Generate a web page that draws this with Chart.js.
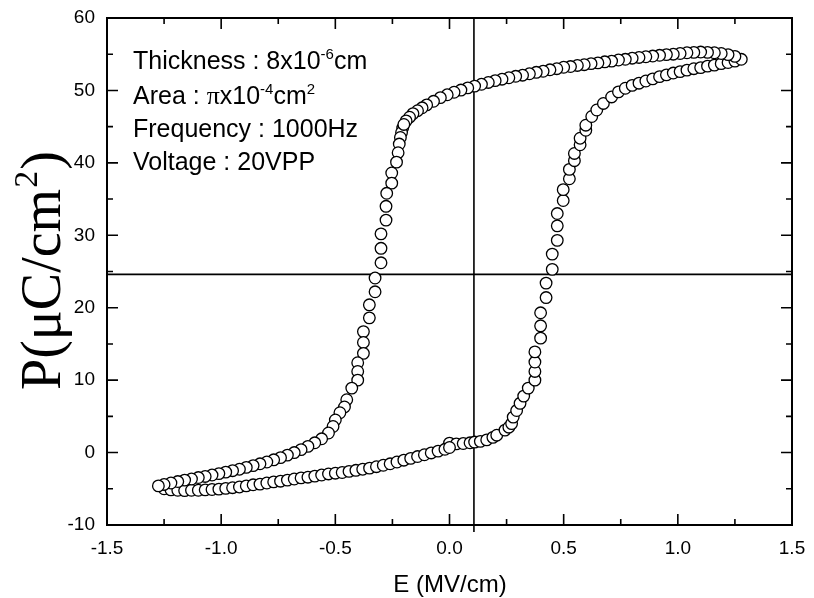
<!DOCTYPE html>
<html>
<head>
<meta charset="utf-8">
<script src="https://cdn.jsdelivr.net/npm/chart.js@4.4.1/dist/chart.umd.min.js"></script>
<style>
html,body{margin:0;padding:0;background:#fff;}
canvas{display:block;}
</style>
</head>
<body>
<canvas id="c" width="814" height="598"></canvas>
<script>
// ---- Data ----
// Upper branch: from positive tip going toward negative field
const upperE = [1.278, 1.25, 1.22, 1.19, 1.16, 1.13, 1.10, 1.07, 1.04, 1.01, 0.98, 0.95, 0.92, 0.89, 0.86, 0.83, 0.80, 0.77, 0.74, 0.71, 0.68, 0.65, 0.62, 0.59, 0.56, 0.53, 0.50, 0.47, 0.44, 0.41, 0.38, 0.35, 0.32, 0.29, 0.26, 0.23, 0.20, 0.17, 0.14, 0.11, 0.08, 0.05, 0.02, -0.01, -0.04, -0.07, -0.10, -0.12, -0.14, -0.16, -0.175, -0.19, -0.20];
const upperP = [54.3, 54.7, 54.95, 55.1, 55.2, 55.25, 55.3, 55.25, 55.2, 55.1, 55.0, 54.95, 54.85, 54.75, 54.65, 54.55, 54.45, 54.3, 54.2, 54.05, 53.95, 53.8, 53.7, 53.55, 53.45, 53.3, 53.2, 53.0, 52.85, 52.65, 52.5, 52.3, 52.1, 51.95, 51.75, 51.55, 51.35, 51.1, 50.85, 50.6, 50.35, 50.05, 49.75, 49.4, 49.0, 48.5, 48.0, 47.6, 47.2, 46.8, 46.3, 45.8, 45.3];
// Left switching branch down to the negative tip
const leftE = [-0.205, -0.21, -0.215, -0.22, -0.225, -0.232, -0.253, -0.253, -0.275, -0.278, -0.278, -0.30, -0.30, -0.30, -0.326, -0.326, -0.351, -0.351, -0.377, -0.377, -0.377, -0.402, -0.402, -0.402, -0.428, -0.45, -0.46, -0.48, -0.50, -0.51, -0.53, -0.56, -0.59, -0.62, -0.65, -0.68, -0.71, -0.74, -0.77, -0.80, -0.83, -0.86, -0.89, -0.92, -0.95, -0.98, -1.01, -1.04, -1.07, -1.10, -1.13, -1.16, -1.19, -1.22, -1.25, -1.275];
const leftP = [44.8, 44.2, 43.5, 42.6, 41.4, 40.1, 38.6, 37.2, 35.8, 34.0, 32.1, 30.2, 28.2, 26.2, 24.1, 22.2, 20.4, 18.6, 16.7, 15.2, 13.7, 12.4, 11.2, 10.0, 8.9, 7.3, 6.3, 5.5, 4.5, 3.6, 2.7, 1.9, 1.35, 0.85, 0.4, 0.0, -0.35, -0.7, -1.0, -1.3, -1.55, -1.8, -2.05, -2.3, -2.5, -2.7, -2.9, -3.1, -3.3, -3.45, -3.65, -3.8, -4.0, -4.2, -4.4, -4.6];
// Lower branch: from negative tip toward zero field
const lowerE = [-1.25, -1.22, -1.19, -1.16, -1.13, -1.10, -1.07, -1.04, -1.01, -0.98, -0.95, -0.92, -0.89, -0.86, -0.83, -0.80, -0.77, -0.74, -0.71, -0.68, -0.65, -0.62, -0.59, -0.56, -0.53, -0.50, -0.47, -0.44, -0.41, -0.38, -0.35, -0.32, -0.29, -0.26, -0.23, -0.20, -0.17, -0.14, -0.11, -0.08, -0.05, -0.02, 0.0];
const lowerP = [-5.0, -5.15, -5.2, -5.25, -5.2, -5.2, -5.15, -5.1, -5.05, -4.95, -4.85, -4.75, -4.6, -4.45, -4.35, -4.2, -4.05, -3.95, -3.8, -3.65, -3.5, -3.4, -3.25, -3.1, -2.95, -2.85, -2.75, -2.6, -2.45, -2.3, -2.15, -1.95, -1.75, -1.55, -1.3, -1.05, -0.8, -0.55, -0.3, -0.05, 0.2, 0.45, 0.7];
// Right switching branch up to the positive tip
const rightE = [0.0, 0.03, 0.06, 0.09, 0.11, 0.135, 0.163, 0.19, 0.207, 0.243, 0.26, 0.272, 0.279, 0.294, 0.309, 0.325, 0.345, 0.374, 0.374, 0.374, 0.374, 0.399, 0.399, 0.399, 0.423, 0.423, 0.45, 0.45, 0.472, 0.472, 0.472, 0.498, 0.498, 0.525, 0.525, 0.547, 0.547, 0.572, 0.572, 0.597, 0.597, 0.623, 0.645, 0.674, 0.71, 0.74, 0.77, 0.80, 0.83, 0.86, 0.89, 0.92, 0.95, 0.98, 1.01, 1.04, 1.07, 1.10, 1.13, 1.16, 1.19, 1.22, 1.25];
const rightP = [1.3, 1.2, 1.25, 1.35, 1.45, 1.55, 1.75, 2.1, 2.4, 3.1, 3.5, 4.0, 4.9, 5.8, 6.8, 7.8, 8.9, 10.0, 11.2, 12.5, 13.9, 15.8, 17.5, 19.3, 21.4, 23.4, 25.3, 27.4, 29.3, 31.3, 33.0, 34.8, 36.3, 37.8, 39.1, 40.3, 41.3, 42.5, 43.4, 44.5, 45.2, 46.4, 47.3, 48.2, 49.1, 49.8, 50.3, 50.7, 51.0, 51.3, 51.6, 51.9, 52.15, 52.4, 52.6, 52.8, 53.0, 53.15, 53.35, 53.5, 53.7, 53.85, 54.05];

// Reference cross lines
const crossE = 0.107;
const crossP = 24.6;

// Tick labels / tick positions
const xTickLabels = [-1.5, -1.0, -0.5, 0.0, 0.5, 1.0, 1.5];
const yTickLabels = [-10, 0, 10, 20, 30, 40, 50, 60];
const xMinorTicks = [-1.25, -0.75, -0.25, 0.25, 0.75, 1.25];
const yMinorTicks = [-5, 5, 15, 25, 35, 45, 55];

const infoLines = [
  [{t:'Thickness : 8x10'}, {t:'-6', sup:true}, {t:'cm'}],
  [{t:'Area : '}, {t:'\u03C0', serif:true}, {t:'x10'}, {t:'-4', sup:true}, {t:'cm'}, {t:'2', sup:true}],
  [{t:'Frequency : 1000Hz'}],
  [{t:'Voltage : 20VPP'}]
];

const SANS = '"Liberation Sans", Arial, sans-serif';
const SERIF = '"Liberation Serif", "Times New Roman", serif';

function pts(E, P) { return E.map((e, i) => ({x: e, y: P[i]})); }

function ds(E, P) {
  return {
    data: pts(E, P),
    showLine: false,
    pointRadius: 5.8,
    pointHoverRadius: 5.8,
    pointBorderWidth: 1.3,
    pointBackgroundColor: '#ffffff',
    pointBorderColor: '#000000'
  };
}

const decor = {
  id: 'decor',
  beforeDatasetsDraw(chart) {
    const {ctx, chartArea: a, scales: {x, y}} = chart;
    ctx.save();
    ctx.strokeStyle = '#000';
    ctx.lineWidth = 1.6;
    const vx = x.getPixelForValue(crossE);
    const hy = y.getPixelForValue(crossP);
    ctx.beginPath();
    ctx.moveTo(vx, a.top); ctx.lineTo(vx, a.bottom + 7);
    ctx.moveTo(a.left, hy); ctx.lineTo(a.right, hy);
    ctx.stroke();
    ctx.restore();
  },
  afterDatasetsDraw(chart) {
    const {ctx, chartArea: a, scales: {x, y}} = chart;
    ctx.save();
    ctx.strokeStyle = '#000';
    ctx.lineWidth = 2;
    ctx.strokeRect(a.left, a.top, a.right - a.left, a.bottom - a.top);
    ctx.lineWidth = 1.6;
    ctx.beginPath();
    const xt = (v, len) => {
      const p = x.getPixelForValue(v);
      ctx.moveTo(p, a.bottom); ctx.lineTo(p, a.bottom - len);
      ctx.moveTo(p, a.top); ctx.lineTo(p, a.top + len);
    };
    const yt = (v, len) => {
      const p = y.getPixelForValue(v);
      ctx.moveTo(a.left, p); ctx.lineTo(a.left + len, p);
      ctx.moveTo(a.right, p); ctx.lineTo(a.right - len, p);
    };
    xTickLabels.forEach(v => xt(v, 11));
    xMinorTicks.forEach(v => xt(v, 6));
    yTickLabels.forEach(v => yt(v, 11));
    yMinorTicks.forEach(v => yt(v, 6));
    ctx.stroke();

    // info text
    ctx.fillStyle = '#000';
    ctx.textAlign = 'left';
    ctx.textBaseline = 'alphabetic';
    const baselines = [69, 104, 137, 170];
    infoLines.forEach((line, i) => {
      let cx = 133;
      const by = baselines[i];
      line.forEach(seg => {
        if (seg.sup) {
          ctx.font = '15px ' + SANS;
          ctx.fillText(seg.t, cx, by - 10);
        } else if (seg.serif) {
          ctx.font = '26px ' + SERIF;
          ctx.fillText(seg.t, cx, by);
        } else {
          ctx.font = '25px ' + SANS;
          ctx.fillText(seg.t, cx, by);
        }
        cx += ctx.measureText(seg.t).width;
      });
    });

    // x axis title
    ctx.font = '24px ' + SANS;
    ctx.textAlign = 'center';
    ctx.fillText('E (MV/cm)', 450, 592);

    // y axis title
    ctx.translate(60, 390);
    ctx.rotate(-Math.PI / 2);
    ctx.textAlign = 'left';
    let cx = 0;
    ctx.font = '56px ' + SERIF;
    ctx.fillText('P(\u03BCC/cm', cx, 0);
    cx += ctx.measureText('P(\u03BCC/cm').width;
    ctx.font = '34px ' + SERIF;
    ctx.fillText('2', cx + 1, -23);
    cx += ctx.measureText('2').width + 2;
    ctx.font = '56px ' + SERIF;
    ctx.fillText(')', cx, 0);
    ctx.restore();
  }
};

new Chart(document.getElementById('c'), {
  type: 'scatter',
  data: {
    datasets: [ds(upperE, upperP), ds(leftE, leftP), ds(lowerE, lowerP), ds(rightE, rightP)]
  },
  options: {
    responsive: false,
    animation: false,
    devicePixelRatio: 1,
    layout: {padding: {top: 18, right: 22, left: 0, bottom: 0}},
    plugins: {legend: {display: false}, tooltip: {enabled: false}},
    scales: {
      x: {
        type: 'linear', min: -1.5, max: 1.5,
        grid: {display: false, drawTicks: false},
        border: {display: false},
        afterBuildTicks: s => { s.ticks = xTickLabels.map(v => ({value: v})); },
        ticks: {
          padding: 12, color: '#000',
          font: {family: SANS, size: 19},
          callback: v => Number(v).toFixed(1)
        },
        afterFit: s => { s.height = 73; s.paddingLeft = 0; s.paddingRight = 0; }
      },
      y: {
        type: 'linear', min: -10, max: 60,
        grid: {display: false, drawTicks: false},
        border: {display: false},
        afterBuildTicks: s => { s.ticks = yTickLabels.map(v => ({value: v})); },
        ticks: {
          padding: 12, color: '#000',
          font: {family: SANS, size: 19},
          callback: v => String(v)
        },
        afterFit: s => { s.width = 107; s.paddingTop = 0; s.paddingBottom = 0; }
      }
    }
  },
  plugins: [decor]
});
</script>
</body>
</html>
